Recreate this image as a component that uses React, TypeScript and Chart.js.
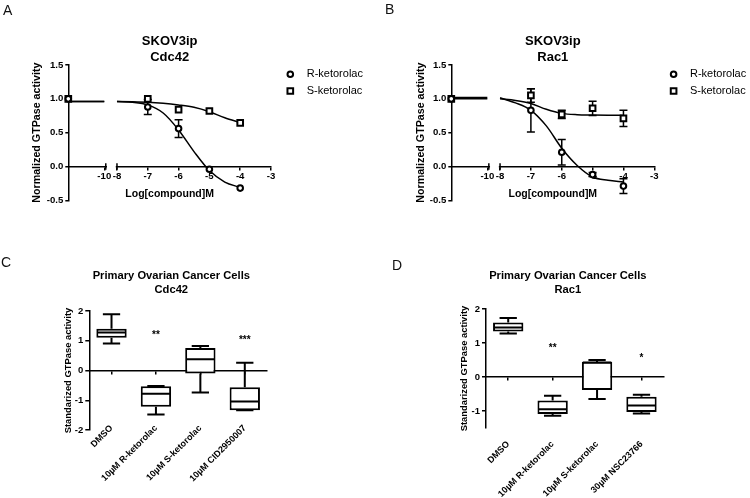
import React, { useEffect, useRef } from 'react';
import { Chart, registerables } from 'chart.js';

Chart.register(...registerables);

const FONT = "'Liberation Sans', Arial, Helvetica, sans-serif";
Chart.defaults.font.family = FONT;
Chart.defaults.color = '#000';

// ---------------- Panels A & B : dose response ----------------
// -11 is the vehicle control, plotted on the compressed left axis segment
const doseLog = [-11, -7, -6, -5, -4];
const fitLog = [-11, -10, -8, -7.5, -7, -6.5, -6, -5.5, -5, -4.5, -4];
const doseTicks = [-10, -8, -7, -6, -5, -4, -3];
const doseTickLabels = ['-10', '-8', '-7', '-6', '-5', '-4', '-3'];
const activityTicks = [-0.5, 0, 0.5, 1, 1.5];
const seriesNames = ['R-ketorolac', 'S-ketorolac'];

const cdc42R = [1.0, 0.88, 0.56, -0.04, -0.32];
const cdc42RErr = [0, 0.11, 0.13, 0, 0];
const cdc42S = [1.0, 1.0, 0.84, 0.82, 0.645];
const cdc42SErr = [0, 0, 0, 0, 0];
const cdc42RFit = [0.96, 0.96, 0.96, 0.95, 0.91, 0.79, 0.54, 0.22, -0.06, -0.23, -0.31];
const cdc42SFit = [0.96, 0.96, 0.96, 0.955, 0.95, 0.935, 0.91, 0.875, 0.81, 0.72, 0.65];

const rac1R = [1.0, 0.83, 0.21, -0.12, -0.29];
const rac1RErr = [0, 0.32, 0.19, 0.03, 0.11];
const rac1S = [1.0, 1.05, 0.77, 0.86, 0.71];
const rac1SErr = [0, 0.1, 0.06, 0.105, 0.12];
const rac1RFit = [1.02, 1.02, 1.015, 0.94, 0.83, 0.6, 0.27, 0.015, -0.155, -0.205, -0.23];
const rac1SFit = [1.0, 1.0, 1.0, 0.975, 0.93, 0.845, 0.785, 0.765, 0.76, 0.757, 0.755];

// ---------------- Panels C & D : box plots ----------------
const cdc42Groups = ['DMSO', '10µM R-ketorolac', '10µM S-ketorolac', '10µM CID2950007'];
const cdc42Min = [0.91, -1.48, -0.74, -1.34];
const cdc42Q1 = [1.1, -1.22, -0.1, -1.34];
const cdc42Median = [1.28, -0.78, 0.38, -1.04];
const cdc42Q3 = [1.4, -0.53, 0.76, -0.56];
const cdc42Max = [1.89, -0.52, 0.82, 0.26];
const cdc42Stars = ['', '**', '', '***'];
const cdc42StarAt = [0, 1.28, 0, 1.11];
const cdc42BoxTicks = [-2, -1, 0, 1, 2];

const rac1Groups = ['DMSO', '10µM R-ketorolac', '10µM S-ketorolac', '30µM NSC23766'];
const rac1Min = [1.28, -1.14, -0.65, -1.07];
const rac1Q1 = [1.34, -1.09, -0.38, -1.03];
const rac1Median = [1.46, -0.95, 0.43, -0.84];
const rac1Q3 = [1.6, -0.69, 0.45, -0.58];
const rac1Max = [1.735, -0.55, 0.5, -0.52];
const rac1Stars = ['', '**', '', '*'];
const rac1StarAt = [0, 0.94, 0, 0.64];
const rac1BoxTicks = [-1, 0, 1, 2];

// broken x axis: left segment (<= -10) is compressed and shifted next to -8
const BREAK_LEFT_END = -8.412;
const LEFT_SEGMENT_SCALE = 1.168;
const toAxis = (v: number) => (v >= -9 ? v : BREAK_LEFT_END + (v + 10) * LEFT_SEGMENT_SCALE);

function curvePoints(xs: number[], ys: number[]) {
  const pts: any[] = [];
  xs.forEach((x, i) => {
    if (i > 0 && xs[i - 1] < -9 && x >= -8) {
      pts.push({ x: (toAxis(xs[i - 1]) + toAxis(x)) / 2, y: null });
    }
    pts.push({ x: toAxis(x), y: ys[i] });
  });
  return pts;
}

function doseConfig(p: any): any {
  const errorBars = {
    id: 'errorBars',
    beforeDatasetsDraw(chart: any) {
      const { ctx } = chart;
      const xs = chart.scales.x;
      const ys = chart.scales.y;
      ctx.save();
      ctx.strokeStyle = '#000';
      ctx.lineWidth = 1.5;
      [[p.r, p.rErr], [p.s, p.sErr]].forEach(([vals, errs]: any) => {
        vals.forEach((v: number, i: number) => {
          const e = errs[i];
          if (!e) return;
          const x = xs.getPixelForValue(toAxis(doseLog[i]));
          const y1 = ys.getPixelForValue(v + e);
          const y2 = ys.getPixelForValue(v - e);
          ctx.beginPath();
          ctx.moveTo(x, y1);
          ctx.lineTo(x, y2);
          ctx.moveTo(x - 4, y1);
          ctx.lineTo(x + 4, y1);
          ctx.moveTo(x - 4, y2);
          ctx.lineTo(x + 4, y2);
          ctx.stroke();
        });
      });
      ctx.restore();
    },
  };
  const axisBreak = {
    id: 'axisBreak',
    afterDraw(chart: any) {
      const { ctx } = chart;
      const xs = chart.scales.x;
      const ys = chart.scales.y;
      const y0 = ys.getPixelForValue(0);
      const a = xs.getPixelForValue(toAxis(-10)) + 1.5;
      const b = xs.getPixelForValue(toAxis(-8));
      ctx.save();
      ctx.fillStyle = '#fff';
      ctx.fillRect(a + 1.2, y0 - 2.5, b - a - 2.4, 5);
      ctx.strokeStyle = '#000';
      ctx.lineWidth = 1.5;
      ctx.beginPath();
      ctx.moveTo(a, y0 - 3.3);
      ctx.lineTo(a, y0 + 3.3);
      ctx.moveTo(b, y0 - 3.3);
      ctx.lineTo(b, y0 + 3.3);
      ctx.stroke();
      ctx.restore();
    },
  };
  const legendPlugin = {
    id: 'doseLegend',
    afterDraw(chart: any) {
      const { ctx, chartArea } = chart;
      const mx = chartArea.right + 19.3;
      const tx = chartArea.right + 35.7;
      const rows = [74.3, 91];
      ctx.save();
      [0, 1].forEach((k) => {
        const ds = chart.data.datasets[k];
        const y = rows[k];
        ctx.lineWidth = 2;
        ctx.strokeStyle = '#000';
        ctx.fillStyle = '#fff';
        ctx.beginPath();
        if (ds.pointStyle === 'rect') {
          const h = ds.pointRadius * Math.SQRT1_2;
          ctx.rect(mx - h, y - h, 2 * h, 2 * h);
        } else {
          ctx.arc(mx, y, ds.pointRadius, 0, Math.PI * 2);
        }
        ctx.fill();
        ctx.stroke();
        ctx.fillStyle = '#000';
        ctx.font = `11px ${FONT}`;
        ctx.textAlign = 'left';
        ctx.textBaseline = 'middle';
        ctx.fillText(ds.label, tx, y);
      });
      ctx.restore();
    },
  };

  const tickFont = { size: 9.6, weight: 'bold' as const };
  return {
    type: 'scatter',
    data: {
      datasets: [
        {
          label: seriesNames[0],
          data: doseLog.map((x, i) => ({ x: toAxis(x), y: p.r[i] })),
          pointStyle: 'circle',
          pointRadius: 2.8,
          pointHoverRadius: 2.8,
          pointBorderWidth: 2,
          pointBackgroundColor: '#fff',
          pointBorderColor: '#000',
          showLine: false,
          clip: false,
          order: 0,
        },
        {
          label: seriesNames[1],
          data: doseLog.map((x, i) => ({ x: toAxis(x), y: p.s[i] })),
          pointStyle: 'rect',
          pointRadius: 4,
          pointHoverRadius: 4,
          pointBorderWidth: 2,
          pointBackgroundColor: '#fff',
          pointBorderColor: '#000',
          showLine: false,
          clip: false,
          order: 0,
        },
        {
          label: seriesNames[0] + ' fit',
          data: curvePoints(fitLog, p.rFit),
          showLine: true,
          borderColor: '#000',
          borderWidth: 1.5,
          pointRadius: 0,
          cubicInterpolationMode: 'monotone',
          spanGaps: false,
          fill: false,
          order: 1,
        },
        {
          label: seriesNames[1] + ' fit',
          data: curvePoints(fitLog, p.sFit),
          showLine: true,
          borderColor: '#000',
          borderWidth: 1.5,
          pointRadius: 0,
          cubicInterpolationMode: 'monotone',
          spanGaps: false,
          fill: false,
          order: 1,
        },
      ],
    },
    options: {
      responsive: false,
      animation: false,
      events: [],
      layout: { padding: { left: 0, right: p.padRight, top: 0, bottom: 49.7 } },
      plugins: {
        legend: { display: false },
        tooltip: { enabled: false },
        title: {
          display: true,
          text: p.title,
          color: '#000',
          fullSize: false,
          font: { size: 13, weight: 'bold', lineHeight: 1.25 },
          padding: { top: 33.5, bottom: -1 },
        },
      },
      scales: {
        x: {
          type: 'linear',
          position: { y: 0 },
          min: toAxis(-11),
          max: -3,
          afterBuildTicks: (s: any) => {
            s.ticks = doseTicks.map((v) => ({ value: toAxis(v) }));
          },
          afterFit: (s: any) => {
            s.height = 34;
          },
          ticks: {
            autoSkip: false,
            maxRotation: 0,
            padding: 1,
            color: '#000',
            font: tickFont,
            callback: (_v: any, i: number) => doseTickLabels[i],
          },
          grid: { display: true, drawOnChartArea: false, drawTicks: true, tickLength: 3, color: '#000', lineWidth: 1.5 },
          border: { display: true, color: '#000', width: 1.5 },
          title: {
            display: true,
            text: 'Log[compound]M',
            color: '#000',
            font: { size: 10.5, weight: 'bold', lineHeight: 1.2 },
            padding: { top: 0, bottom: 0 },
          },
        },
        y: {
          type: 'linear',
          position: 'left',
          min: -0.5,
          max: 1.5,
          afterBuildTicks: (s: any) => {
            s.ticks = activityTicks.map((v) => ({ value: v }));
          },
          afterFit: (s: any) => {
            s.width = p.yWidth;
          },
          ticks: {
            padding: 2,
            color: '#000',
            font: tickFont,
            callback: (v: any) => Number(v).toFixed(1),
          },
          grid: { display: true, drawOnChartArea: false, drawTicks: true, tickLength: 3, color: '#000', lineWidth: 1.5 },
          border: { display: true, color: '#000', width: 1.5 },
          title: {
            display: true,
            text: 'Normalized GTPase activity',
            color: '#000',
            font: { size: 10.7, weight: 'bold', lineHeight: 1.2 },
            padding: { top: p.yTitlePad, bottom: 0 },
          },
        },
      },
    },
    plugins: [errorBars, axisBreak, legendPlugin],
  };
}

function boxConfig(p: any): any {
  const whiskers = {
    id: 'whiskers',
    afterDatasetsDraw(chart: any) {
      const { ctx } = chart;
      const xs = chart.scales.x;
      const ys = chart.scales.y;
      const meta = chart.getDatasetMeta(0);
      ctx.save();
      ctx.strokeStyle = '#000';
      ctx.lineWidth = 2;
      p.median.forEach((m: number, i: number) => {
        const cx = xs.getPixelForValue(i);
        const hw = meta.data[i].width / 2;
        const cap = hw * 0.57;
        const yMed = ys.getPixelForValue(m);
        const yQ1 = ys.getPixelForValue(p.q1[i]);
        const yQ3 = ys.getPixelForValue(p.q3[i]);
        const yMin = ys.getPixelForValue(p.min[i]);
        const yMax = ys.getPixelForValue(p.max[i]);
        ctx.beginPath();
        ctx.moveTo(cx - hw + 1, yMed);
        ctx.lineTo(cx + hw - 1, yMed);
        ctx.moveTo(cx, yQ3);
        ctx.lineTo(cx, yMax);
        ctx.moveTo(cx - cap, yMax);
        ctx.lineTo(cx + cap, yMax);
        ctx.moveTo(cx, yQ1);
        ctx.lineTo(cx, yMin);
        ctx.moveTo(cx - cap, yMin);
        ctx.lineTo(cx + cap, yMin);
        ctx.stroke();
      });
      ctx.fillStyle = '#000';
      ctx.font = `bold 10px ${FONT}`;
      ctx.textAlign = 'center';
      ctx.textBaseline = 'alphabetic';
      p.stars.forEach((s: string, i: number) => {
        if (!s) return;
        ctx.fillText(s, xs.getPixelForValue(i), ys.getPixelForValue(p.starAt[i]) + 5.8);
      });
      ctx.restore();
    },
  };
  return {
    type: 'bar',
    data: {
      labels: p.groups,
      datasets: [
        {
          label: 'Interquartile range',
          data: p.q1.map((v: number, i: number) => [v, p.q3[i]]),
          backgroundColor: '#fff',
          borderColor: '#000',
          borderWidth: 2,
          borderSkipped: false,
          barPercentage: 0.683,
          categoryPercentage: 1,
          xAxisID: 'x',
          yAxisID: 'y',
        },
      ],
    },
    options: {
      responsive: false,
      animation: false,
      events: [],
      layout: { padding: { left: 0, right: p.padRight, top: 0, bottom: p.padBottom } },
      plugins: {
        legend: { display: false },
        tooltip: { enabled: false },
        title: {
          display: true,
          text: p.title,
          color: '#000',
          fullSize: true,
          font: { size: 11.2, weight: 'bold', lineHeight: 1.3 },
          padding: { top: 18.2, bottom: p.titlePadBottom },
        },
      },
      scales: {
        x: {
          type: 'category',
          position: { y: p.yMin },
          offset: true,
          grid: { display: false, drawTicks: false },
          border: { display: false },
          ticks: {
            autoSkip: false,
            minRotation: 45,
            maxRotation: 45,
            padding: p.labelPad,
            color: '#000',
            font: { size: 9, weight: 'bold' },
          },
        },
        x2: {
          type: 'category',
          labels: p.groups,
          position: { y: 0 },
          offset: true,
          grid: {
            display: true,
            offset: false,
            drawOnChartArea: false,
            drawTicks: true,
            tickLength: 3,
            color: '#000',
            lineWidth: 1.5,
          },
          border: { display: true, color: '#000', width: 1.5 },
          ticks: { display: false },
        },
        y: {
          type: 'linear',
          position: 'left',
          min: p.yMin,
          max: p.yMax,
          afterBuildTicks: (s: any) => {
            s.ticks = p.yTicks.map((v: number) => ({ value: v }));
          },
          afterFit: (s: any) => {
            s.width = p.yWidth;
          },
          ticks: {
            padding: 2,
            color: '#000',
            font: { size: 9.5, weight: 'bold' },
            callback: (v: any) => String(v),
          },
          grid: { display: true, drawOnChartArea: false, drawTicks: true, tickLength: 4, color: '#000', lineWidth: 1.5 },
          border: { display: true, color: '#000', width: 1.5 },
          title: {
            display: true,
            text: 'Standarized GTPase activity',
            color: '#000',
            font: { size: 9.4, weight: 'bold', lineHeight: 1.2 },
            padding: { top: p.yTitlePad, bottom: 0 },
          },
        },
        ySpacer: {
          type: 'linear',
          position: 'right',
          display: true,
          grid: { display: false, drawTicks: false },
          border: { display: false },
          ticks: { display: false },
          afterFit: (s: any) => {
            s.width = p.spacer;
          },
        },
      },
    },
    plugins: [whiskers],
  };
}

const makeA = () =>
  doseConfig({
    title: ['SKOV3ip', 'Cdc42'],
    r: cdc42R, rErr: cdc42RErr, s: cdc42S, sErr: cdc42SErr,
    rFit: cdc42RFit, sFit: cdc42SFit,
    yWidth: 68.3, yTitlePad: 31.1, padRight: 104,
  });
const makeB = () =>
  doseConfig({
    title: ['SKOV3ip', 'Rac1'],
    r: rac1R, rErr: rac1RErr, s: rac1S, sErr: rac1SErr,
    rFit: rac1RFit, sFit: rac1SFit,
    yWidth: 76.3, yTitlePad: 39.4, padRight: 95.7,
  });
const makeC = () =>
  boxConfig({
    title: ['Primary Ovarian Cancer Cells', 'Cdc42'],
    groups: cdc42Groups, min: cdc42Min, q1: cdc42Q1, median: cdc42Median, q3: cdc42Q3, max: cdc42Max,
    stars: cdc42Stars, starAt: cdc42StarAt, yTicks: cdc42BoxTicks, yMin: -2, yMax: 2,
    yWidth: 89.3, yTitlePad: 62.9, spacer: 75.6, padRight: 32.4, padBottom: 68,
    titlePadBottom: 13.7, labelPad: -7,
  });
const makeD = () =>
  boxConfig({
    title: ['Primary Ovarian Cancer Cells', 'Rac1'],
    groups: rac1Groups, min: rac1Min, q1: rac1Q1, median: rac1Median, q3: rac1Q3, max: rac1Max,
    stars: rac1Stars, starAt: rac1StarAt, yTicks: rac1BoxTicks, yMin: -1.5, yMax: 2,
    yWidth: 100, yTitlePad: 72.6, spacer: 85.9, padRight: 0.4, padBottom: 70,
    titlePadBottom: 11.7, labelPad: 11,
  });

function ChartCanvas({ left, top, width, height, make }: any) {
  const ref = useRef<HTMLCanvasElement>(null);
  useEffect(() => {
    const chart = new Chart(ref.current as HTMLCanvasElement, make());
    return () => chart.destroy();
  }, []);
  return (
    <canvas
      ref={ref}
      width={width}
      height={height}
      style={{ position: 'absolute', left, top, width, height }}
    />
  );
}

function PanelLetter({ text, left, top }: any) {
  return (
    <div
      style={{
        position: 'absolute',
        left,
        top,
        fontFamily: FONT,
        fontSize: 14,
        lineHeight: '14px',
        color: '#111',
      }}
    >
      {text}
    </div>
  );
}

export default function App() {
  return (
    <div
      style={{
        position: 'fixed',
        left: 0,
        top: 0,
        width: 750,
        height: 498,
        background: '#fff',
        overflow: 'hidden',
      }}
    >
      <ChartCanvas left={0} top={0} width={375} height={250} make={makeA} />
      <ChartCanvas left={375} top={0} width={375} height={250} make={makeB} />
      <ChartCanvas left={0} top={250} width={375} height={248} make={makeC} />
      <ChartCanvas left={386} top={250} width={364} height={248} make={makeD} />
      <PanelLetter text="A" left={3} top={3} />
      <PanelLetter text="B" left={385} top={2} />
      <PanelLetter text="C" left={1} top={255} />
      <PanelLetter text="D" left={392} top={258} />
    </div>
  );
}
